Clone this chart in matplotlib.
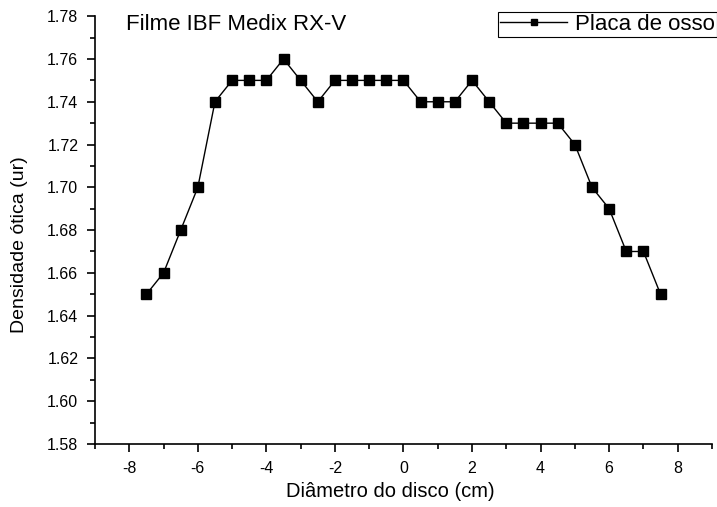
import matplotlib.pyplot as plt
from matplotlib.ticker import MultipleLocator

plt.rcParams['font.family'] = ['Liberation Sans', 'DejaVu Sans']
plt.rcParams['axes.unicode_minus'] = False

# posição ao longo do diâmetro (cm) e densidade ótica medida
diametro = [-7.5, -7.0, -6.5, -6.0, -5.5, -5.0, -4.5, -4.0, -3.5, -3.0, -2.5,
            -2.0, -1.5, -1.0, -0.5, 0.0, 0.5, 1.0, 1.5, 2.0, 2.5, 3.0, 3.5,
            4.0, 4.5, 5.0, 5.5, 6.0, 6.5, 7.0, 7.5]
densidade = [1.65, 1.66, 1.68, 1.70, 1.74, 1.75, 1.75, 1.75, 1.76, 1.75, 1.74,
             1.75, 1.75, 1.75, 1.75, 1.75, 1.74, 1.74, 1.74, 1.75, 1.74, 1.73,
             1.73, 1.73, 1.73, 1.72, 1.70, 1.69, 1.67, 1.67, 1.65]

fig = plt.figure(figsize=(7.17, 5.07), dpi=100)
ax = fig.add_axes([0.1325, 0.1243, 0.8605, 0.8437])

ax.plot(diametro, densidade, color='k', lw=1, marker='s', ms=7,
        mfc='k', mec='k', label='Placa de osso')

ax.set_xlim(-9, 9)
ax.set_ylim(1.58, 1.78)
ax.xaxis.set_major_locator(MultipleLocator(2))
ax.xaxis.set_minor_locator(MultipleLocator(1))
ax.yaxis.set_major_locator(MultipleLocator(0.02))
ax.yaxis.set_minor_locator(MultipleLocator(0.01))
ax.yaxis.set_major_formatter(plt.FormatStrFormatter('%.2f'))
ax.tick_params(which='major', direction='out', length=6, width=1.2,
               labelsize=11.5, pad=6)
ax.tick_params(which='minor', direction='out', length=3.5, width=1.2)

for lado in ['top', 'right']:
    ax.spines[lado].set_visible(False)
for lado in ['left', 'bottom']:
    ax.spines[lado].set_linewidth(1.2)

ax.set_xlabel('Diâmetro do disco (cm)', fontsize=14.5)
ax.set_ylabel('Densidade ótica (ur)', fontsize=14)
ax.xaxis.set_label_coords(0.478, -0.088)
ax.yaxis.set_label_coords(-0.108, 0.465)
ax.text(-8.1, 1.7763, 'Filme IBF Medix RX-V', fontsize=16, va='center')

leg = ax.legend(loc='upper right', bbox_to_anchor=(1.0, 0.977),
                bbox_transform=fig.transFigure, borderaxespad=0,
                fontsize=16, frameon=True, fancybox=False, edgecolor='k',
                framealpha=1, borderpad=0.1, handlelength=3.0,
                handletextpad=0.35, markerscale=0.7)
leg.get_frame().set_linewidth(0.8)

fig.savefig('out.png', dpi=100)
